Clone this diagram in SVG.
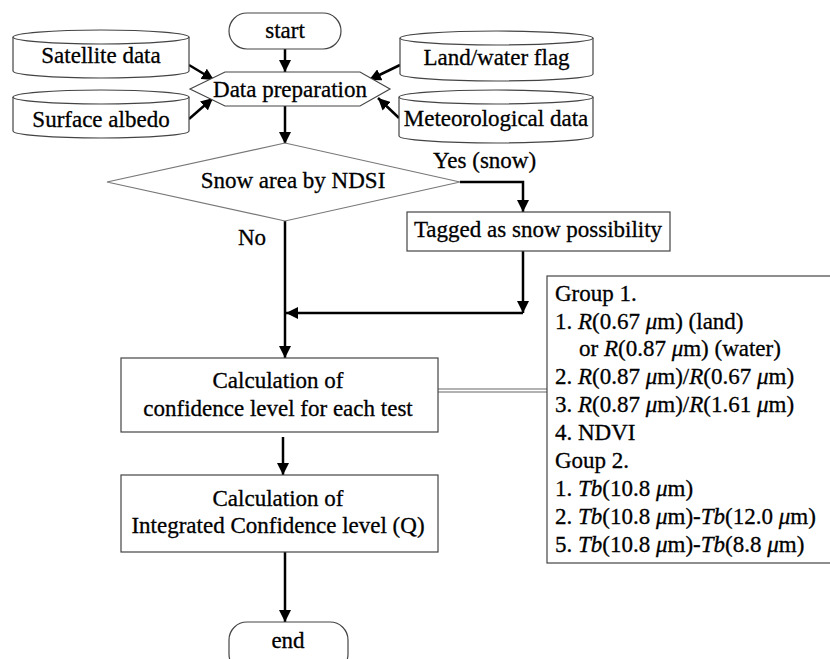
<svg xmlns="http://www.w3.org/2000/svg" width="830" height="659" viewBox="0 0 830 659" font-family="'Liberation Serif', 'DejaVu Serif', serif" font-size="23">
<defs>
<marker id="ah" markerWidth="12" markerHeight="12" viewBox="0 0 12 12" refX="12" refY="6" orient="auto" markerUnits="userSpaceOnUse">
<path d="M0,0 L12,6 L0,12 Z" fill="#000"/>
</marker>
<style>
text{font-family:'Liberation Serif','DejaVu Serif',serif;font-size:23px;fill:#000;stroke:#000;stroke-width:0.3}
.c{text-anchor:middle}
.shape{fill:#fff;stroke:#444;stroke-width:1.2}
.dia{fill:#fff;stroke:#777;stroke-width:1.2}
.arr{fill:none;stroke:#000;stroke-width:2.5;marker-end:url(#ah)}
.i{font-style:italic}
</style>
</defs>
<rect width="830" height="659" fill="#fff"/>
<g id="connectors">
<path class="arr" d="M285,49 V72"/>
<path class="arr" d="M189,65 L214,80"/>
<path class="arr" d="M189,119 L213,98"/>
<path class="arr" d="M400,65 L369,80"/>
<path class="arr" d="M399,118 L378,98"/>
<path class="arr" d="M285,106 V144"/>
<path class="arr" d="M460,182 H523 V212"/>
<path class="arr" d="M523,251 V313"/>
<path class="arr" d="M523,313 H286"/>
<path class="arr" d="M285,221 V358"/>
<path class="arr" d="M283,437 V475"/>
<path class="arr" d="M285,552 V622"/>
<path d="M438,389 H547 M438,392 H547" fill="none" stroke="#666" stroke-width="1.2"/>
<text x="238" y="245">No</text>
<text x="433" y="168">Yes (snow)</text>
</g>
<g id="start">
<rect class="shape" x="229" y="13" width="112" height="36" rx="18"/>
<text class="c" x="285" y="38">start</text>
</g>
<g id="satellite">
<path class="shape" d="M13,37 V71 A88,7 0 0 0 189,71 V37"/>
<ellipse class="shape" cx="101" cy="37" rx="88" ry="7"/>
<text class="c" x="101" y="63">Satellite data</text>
</g>
<g id="albedo">
<path class="shape" d="M13,97 V131 A88,7 0 0 0 189,131 V97"/>
<ellipse class="shape" cx="101" cy="97" rx="88" ry="7"/>
<text class="c" x="101" y="127">Surface albedo</text>
</g>
<g id="landwater">
<path class="shape" d="M400,38 V74 A96.5,7 0 0 0 593,74 V38"/>
<ellipse class="shape" cx="496.5" cy="38" rx="96.5" ry="7"/>
<text class="c" x="496.5" y="65">Land/water flag</text>
</g>
<g id="meteo">
<path class="shape" d="M399,97 V136 A97,7 0 0 0 593,136 V97"/>
<ellipse class="shape" cx="496" cy="97" rx="97" ry="7"/>
<text class="c" x="496" y="126">Meteorological data</text>
</g>
<g id="prep">
<polygon class="shape" points="190,89 225,72 360,72 390,89 360,106 225,106"/>
<text class="c" x="290" y="97">Data preparation</text>
</g>
<g id="ndsi">
<polygon class="dia" points="107,182 285,143 460,182 285,221"/>
<text class="c" x="293" y="188">Snow area by NDSI</text>
</g>
<g id="tagged">
<rect class="shape" x="407" y="212" width="263" height="39"/>
<text class="c" x="538" y="237">Tagged as snow possibility</text>
</g>
<g id="calc1">
<rect class="shape" x="121" y="358" width="317" height="74"/>
<text class="c" x="278" y="388">Calculation of</text>
<text class="c" x="278" y="416">confidence level for each test</text>
</g>
<g id="calc2">
<rect class="shape" x="121" y="475" width="317" height="77"/>
<text class="c" x="278" y="506">Calculation of</text>
<text class="c" x="278" y="533">Integrated Confidence level (Q)</text>
</g>
<g id="end">
<rect class="shape" x="229" y="622" width="119" height="50" rx="18"/>
<text class="c" x="288" y="648">end</text>
</g>
<g id="tests">
<rect class="shape" x="547" y="276" width="300" height="287"/>
<text x="555" y="301">Group 1.</text>
<text x="555" y="329">1. <tspan class="i">R</tspan>(0.67 <tspan class="i">μ</tspan>m) (land)</text>
<text x="579" y="356">or <tspan class="i">R</tspan>(0.87 <tspan class="i">μ</tspan>m) (water)</text>
<text x="555" y="384">2. <tspan class="i">R</tspan>(0.87 <tspan class="i">μ</tspan>m)/<tspan class="i">R</tspan>(0.67 <tspan class="i">μ</tspan>m)</text>
<text x="555" y="412">3. <tspan class="i">R</tspan>(0.87 <tspan class="i">μ</tspan>m)/<tspan class="i">R</tspan>(1.61 <tspan class="i">μ</tspan>m)</text>
<text x="555" y="440">4. NDVI</text>
<text x="555" y="468">Goup 2.</text>
<text x="555" y="496">1. <tspan class="i">Tb</tspan>(10.8 <tspan class="i">μ</tspan>m)</text>
<text x="555" y="524">2. <tspan class="i">Tb</tspan>(10.8 <tspan class="i">μ</tspan>m)-<tspan class="i">Tb</tspan>(12.0 <tspan class="i">μ</tspan>m)</text>
<text x="555" y="552">5. <tspan class="i">Tb</tspan>(10.8 <tspan class="i">μ</tspan>m)-<tspan class="i">Tb</tspan>(8.8 <tspan class="i">μ</tspan>m)</text>
</g>
</svg>
